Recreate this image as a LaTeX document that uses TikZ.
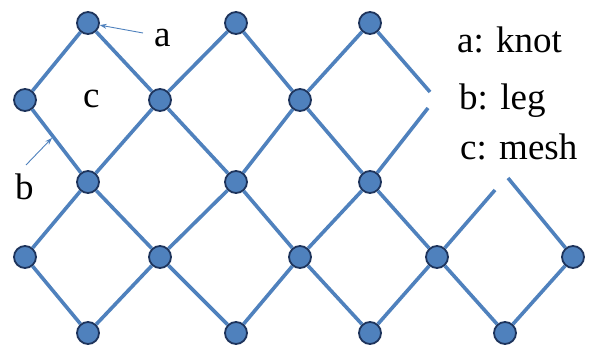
\documentclass[tikz,border=0pt]{standalone}
\usepackage{fontspec}
\setmainfont{Liberation Serif}
\usetikzlibrary{arrows.meta}
\definecolor{netblue}{RGB}{79,129,189}
\definecolor{knotrim}{RGB}{30,52,92}
\begin{document}
\begin{tikzpicture}[x=1pt, y=-1pt,
    knot/.style={circle, fill=netblue, draw=knotrim, line width=1.8pt,
        minimum size=22pt, inner sep=0pt},
    leg/.style={netblue, line width=3.6pt},
    pointer/.style={netblue, line width=0.9pt, -{Stealth[length=7pt, width=5pt]}},
    lbl/.style={font=\fontsize{37}{40}\selectfont, inner sep=0pt, anchor=base west}]
    \useasboundingbox (0,0) rectangle (596,347);
    % Knots
    \foreach \n/\xi/\yi in {
        11/88/23, 13/236/23, 15/370/23,
        20/25/100, 22/160/100, 24/300/100,
        31/88/182, 33/236/182, 35/370/182,
        40/25/257, 42/160/257, 44/300/257, 46/437/257, 48/573/257,
        51/88/333, 53/236/333, 55/370/333, 57/505/333}{
        \node[knot] (k\n) at (\xi,\yi) {};
    }
    % Loose ends of cut legs
    \coordinate (e1) at (430,92);
    \coordinate (e2) at (428,108);
    \coordinate (e3) at (495,190);
    \coordinate (e4) at (508,178);
    % Legs
    \foreach \u/\v in {
        k11/k20, k11/k22, k13/k22, k13/k24, k15/k24, k15/e1,
        k20/k31, k22/k31, k22/k33, k24/k33, k24/k35, k35/e2,
        k31/k40, k31/k42, k33/k42, k33/k44, k35/k44, k35/k46, e3/k46, e4/k48,
        k40/k51, k42/k51, k42/k53, k44/k53, k44/k55, k46/k55, k46/k57, k48/k57}{
        \draw[leg] (\u) -- (\v);
    }
    % Labels
    \coordinate (pa) at (143,33);
    \coordinate (pb) at (26,165);
    \coordinate (lb) at (52,138);
    \draw[pointer] (pa) -- (k11);
    \draw[pointer] (pb) -- (lb);
    \node[lbl] (la) at (154,47) {a};
    \node[lbl] (lbb) at (15,200) {b};
    \node[lbl] (lc) at (83,108) {c};
    % Legend
    \node[lbl] (ka) at (457,53) {a: knot};
    \node[lbl] (kb) at (459,110) {b: leg};
    \node[lbl] (kc) at (460,160) {c: mesh};
\end{tikzpicture}
\end{document}
